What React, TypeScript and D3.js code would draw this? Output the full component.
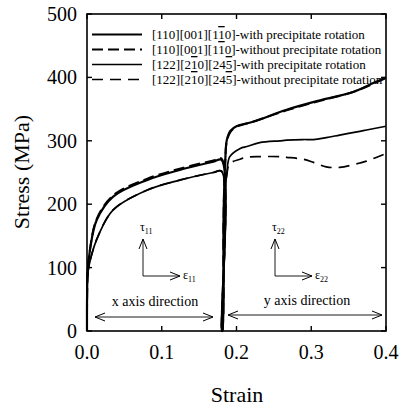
import React from 'react';
import * as d3 from 'd3';

// loading along x (0 -> 0.18), unloading, then reloading along y
const strain110 = [0, 0.001, 0.004, 0.013, 0.035, 0.08, 0.124, 0.169, 0.18, 0.1805, 0.181, 0.183, 0.185, 0.187, 0.192, 0.2, 0.222, 0.267, 0.312, 0.356, 0.383, 0.4];
const stress110With = [0, 95, 128, 175, 212, 238, 254, 267, 270, 0, 0, 200, 270, 301, 316, 323, 330, 349, 364, 377, 391, 400];
const stress110Without = [0, 95, 129, 177, 214, 240, 256, 269, 272, 0, 0, 200, 268, 299, 314, 322, 330, 348, 363, 377, 390, 399];

const strain122 = [0, 0.001, 0.005, 0.015, 0.035, 0.08, 0.124, 0.169, 0.18, 0.1805, 0.181, 0.183, 0.185, 0.187, 0.191, 0.205, 0.214, 0.231, 0.258, 0.267, 0.289, 0.303, 0.32, 0.338, 0.365, 0.374, 0.4];
const stress122With = [0, 90, 115, 150, 191, 222, 238, 250, 252, 0, 0, 180, 225, 248, 275, 288, 291, 297, 300, 301, 302, 302, 305, 309, 315, 317, 323];
const stress122Without = [0, 90, 115, 150, 191, 222, 238, 250, 252, 0, 0, 180, 225, 246, 264, 271, 274, 275, 275, 274, 271, 266, 259, 258, 265, 268, 280];

const xTicks = [0, 0.1, 0.2, 0.3, 0.4];
const yTicks = [0, 100, 200, 300, 400, 500];

type Part = [string, boolean?];
const series: { x: number[]; y: number[]; width: number; dash?: string; label: Part[] }[] = [
  { x: strain110, y: stress110With, width: 2.2, label: [['[110][001][1'], ['1', true], ['0]-with precipitate rotation']] },
  { x: strain110, y: stress110Without, width: 2, dash: '11,5', label: [['[110][001][1'], ['1', true], ['0]-without precipitate rotation']] },
  { x: strain122, y: stress122With, width: 1.7, label: [['[122][2'], ['1', true], ['0][24'], ['5', true], [']-with precipitate rotation']] },
  { x: strain122, y: stress122Without, width: 1.7, dash: '11,7', label: [['[122][2'], ['1', true], ['0][24'], ['5', true], [']-without precipitate rotation']] },
];

const W = 403, H = 413;
const M = { left: 87, right: 386, top: 14, bottom: 331 };
const FONT = 'Liberation Serif';

const x = d3.scaleLinear().domain([0, 0.4]).range([M.left, M.right]);
const y = d3.scaleLinear().domain([0, 500]).range([M.bottom, M.top]);
const line = d3.line<[number, number]>()
  .x(d => x(d[0]))
  .y(d => y(d[1]))
  .curve(d3.curveCatmullRom.alpha(0.5));

function AxisGlyph({ ox, sub }: { ox: number; sub: string }) {
  const oy = 276;
  return (
    <g>
      <line x1={ox} y1={oy} x2={ox} y2={239} stroke="#000" strokeWidth={0.9} markerEnd="url(#vh)" />
      <line x1={ox} y1={oy} x2={ox + 37} y2={oy} stroke="#000" strokeWidth={0.9} markerEnd="url(#vh)" />
      <text x={ox - 3} y={231} fontFamily={FONT} fontSize={12}>
        τ<tspan dy={3} fontSize={8}>{sub}</tspan>
      </text>
      <text x={ox + 40} y={279} fontFamily={FONT} fontSize={12}>
        ε<tspan dy={3} fontSize={8}>{sub}</tspan>
      </text>
    </g>
  );
}

export default function App() {
  const tl = 5;
  return (
    <svg width={W} height={H} style={{ position: 'absolute', left: 0, top: 0, background: '#fff' }}>
      <defs>
        <marker id="vh" viewBox="0 0 10 10" refX={10} refY={5} markerWidth={10} markerHeight={10}
          markerUnits="userSpaceOnUse" orient="auto-start-reverse">
          <path d="M0,1 L10,5 L0,9" fill="none" stroke="#000" strokeWidth={1} />
        </marker>
      </defs>

      {series.map((s, i) => (
        <path key={i} d={line(s.x.map((v, j) => [v, s.y[j]] as [number, number])) || ''}
          fill="none" stroke="#000" strokeWidth={s.width} strokeDasharray={s.dash} />
      ))}

      <rect x={M.left} y={M.top} width={M.right - M.left} height={M.bottom - M.top}
        fill="none" stroke="#000" strokeWidth={1.6} />

      {xTicks.map(t => (
        <g key={'x' + t}>
          <line x1={x(t)} x2={x(t)} y1={M.bottom} y2={M.bottom - tl} stroke="#000" strokeWidth={1.4} />
          <line x1={x(t)} x2={x(t)} y1={M.top} y2={M.top + tl} stroke="#000" strokeWidth={1.4} />
          <text x={x(t)} y={359} textAnchor="middle" fontFamily={FONT} fontSize={20}>{d3.format('.1f')(t)}</text>
        </g>
      ))}
      {yTicks.map(t => (
        <g key={'y' + t}>
          <line x1={M.left} x2={M.left + tl} y1={y(t)} y2={y(t)} stroke="#000" strokeWidth={1.4} />
          <line x1={M.right} x2={M.right - tl} y1={y(t)} y2={y(t)} stroke="#000" strokeWidth={1.4} />
          <text x={77} y={y(t) + 7} textAnchor="end" fontFamily={FONT} fontSize={20}>{t}</text>
        </g>
      ))}

      <text x={237} y={402} textAnchor="middle" fontFamily={FONT} fontSize={22}>Strain</text>
      <text transform="translate(29,172) rotate(-90)" textAnchor="middle" fontFamily={FONT} fontSize={22}>Stress (MPa)</text>

      {series.map((s, i) => {
        const ly = 34.5 + i * 15;
        return (
          <g key={'l' + i}>
            <line x1={92} x2={142} y1={ly} y2={ly} stroke="#000" strokeWidth={s.width} strokeDasharray={s.dash} />
            <text x={152} y={ly + 4.5} fontFamily={FONT} fontSize={13}>
              {s.label.map(([str, over], k) => (
                <tspan key={k} style={over ? { textDecoration: 'overline' } : undefined}>{str}</tspan>
              ))}
            </text>
          </g>
        );
      })}

      <AxisGlyph ox={143} sub="11" />
      <AxisGlyph ox={275} sub="22" />

      <text x={155} y={306} textAnchor="middle" fontFamily={FONT} fontSize={14}>x axis direction</text>
      <text x={307} y={305} textAnchor="middle" fontFamily={FONT} fontSize={14}>y axis direction</text>

      <line x1={95} x2={213} y1={317} y2={317} stroke="#000" strokeWidth={0.9} markerStart="url(#vh)" markerEnd="url(#vh)" />
      <line x1={228} x2={382} y1={315} y2={315} stroke="#000" strokeWidth={0.9} markerStart="url(#vh)" markerEnd="url(#vh)" />
    </svg>
  );
}
